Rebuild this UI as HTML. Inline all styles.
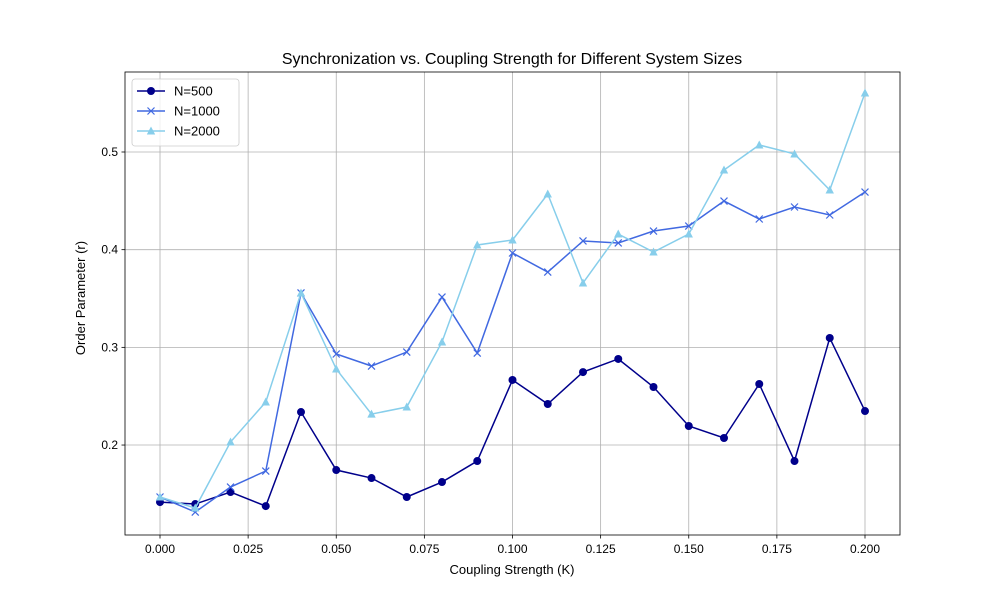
<!DOCTYPE html>
<html><head><meta charset="utf-8"><style>
body{margin:0;background:#fff;font-family:"Liberation Sans","DejaVu Sans",sans-serif}
</style></head><body>
<svg id="c" width="1000" height="600" xmlns="http://www.w3.org/2000/svg"></svg>
<script>
const categories=[0,0.01,0.02,0.03,0.04,0.05,0.06,0.07,0.08,0.09,0.1,0.11,0.12,0.13,0.14,0.15,0.16,0.17,0.18,0.19,0.2];
const n500=[0.1416,0.1396,0.1519,0.1375,0.2338,0.1744,0.1662,0.1468,0.1621,0.1836,0.2666,0.2420,0.2747,0.2881,0.2594,0.2195,0.2072,0.2625,0.1836,0.3096,0.2348];
const n1000=[0.1468,0.1314,0.1570,0.1734,0.3557,0.2932,0.2809,0.2952,0.3515,0.2942,0.3966,0.3771,0.4089,0.4069,0.4191,0.4242,0.4498,0.4314,0.4437,0.4355,0.4590];
const n2000=[0.1468,0.1355,0.2031,0.2440,0.3557,0.2778,0.2317,0.2389,0.3055,0.4048,0.4099,0.4570,0.3659,0.4160,0.3976,0.4160,0.4816,0.5072,0.4980,0.4611,0.5604];
const xTicks=[0,0.025,0.05,0.075,0.1,0.125,0.15,0.175,0.2];
const xTickLabels=["0.000","0.025","0.050","0.075","0.100","0.125","0.150","0.175","0.200"];
const yTicks=[0.2,0.3,0.4,0.5];
const yTickLabels=["0.2","0.3","0.4","0.5"];
const L=125,R=900,T=72,B=535,xMin=-0.00993,xMax=0.20993,yMin=0.1079,yMax=0.5819;
const X=v=>L+(v-xMin)/(xMax-xMin)*(R-L);
const Y=v=>B-(v-yMin)/(yMax-yMin)*(B-T);
const svg=document.getElementById('c');const NS='http://www.w3.org/2000/svg';
function mk(t,a,p){const e=document.createElementNS(NS,t);for(const k in a)e.setAttribute(k,a[k]);(p||svg).appendChild(e);return e;}
xTicks.forEach((v,i)=>{
const g=mk('line',{x1:X(v),x2:X(v),y1:T,y2:B,stroke:'#b0b0b0','stroke-width':0.8});


mk('line',{x1:X(v),x2:X(v),y1:B,y2:B+3.5,stroke:'#000','stroke-width':0.8});
const t=mk('text',{x:X(v),y:B+18,'text-anchor':'middle','font-size':12});t.textContent=xTickLabels[i];


});
yTicks.forEach((v,i)=>{
const g=mk('line',{x1:L,x2:R,y1:Y(v),y2:Y(v),stroke:'#b0b0b0','stroke-width':0.8});


mk('line',{x1:L-3.5,x2:L,y1:Y(v),y2:Y(v),stroke:'#000','stroke-width':0.8});
const t=mk('text',{x:L-7,y:Y(v)+4,'text-anchor':'end','font-size':12});t.textContent=yTickLabels[i];


});
const fr=mk('rect',{x:L,y:T,width:R-L,height:B-T,fill:'none',stroke:'#000','stroke-width':0.8});


function marker(type,x,y,col,p){
if(type==='o')return mk('circle',{cx:x,cy:y,r:4,fill:col},p);
if(type==='x'){const g=mk('g',{},p);mk('line',{x1:x-3.5,y1:y-3.5,x2:x+3.5,y2:y+3.5,stroke:col,'stroke-width':1.2},g);mk('line',{x1:x-3.5,y1:y+3.5,x2:x+3.5,y2:y-3.5,stroke:col,'stroke-width':1.2},g);return g;}
return mk('polygon',{points:`${x},${y-4.5} ${x-4.2},${y+3.5} ${x+4.2},${y+3.5}`,fill:col},p);
}
const series=[[n500,'#00008b','o','N=500'],[n1000,'#4169e1','x','N=1000'],[n2000,'#87ceeb','^','N=2000']];
series.forEach(([d,col,m,name])=>{
const g=mk('g',{});


mk('polyline',{points:d.map((v,i)=>X(categories[i])+','+Y(v)).join(' '),fill:'none',stroke:col,'stroke-width':1.5},g);
d.forEach((v,i)=>{const e=marker(m,X(categories[i]),Y(v),col,g);

});
});
const lg=mk('g',{});


mk('rect',{x:132,y:79,width:107,height:67,rx:3,fill:'#fff',stroke:'#ccc','stroke-width':0.8,'fill-opacity':0.8},lg);
series.forEach(([d,col,m,name],i)=>{
const y=91+i*20;
const e=mk('g',{},lg);


mk('line',{x1:137,x2:165,y1:y,y2:y,stroke:col,'stroke-width':1.5},e);
marker(m,151,y,col,e);
const t=mk('text',{x:174,y:y+4.5,'font-size':13},e);t.textContent=name;
});
const tt=mk('text',{x:512,y:64,'text-anchor':'middle','font-size':16});tt.textContent='Synchronization vs. Coupling Strength for Different System Sizes';


const xl=mk('text',{x:512,y:574,'text-anchor':'middle','font-size':13});xl.textContent='Coupling Strength (K)';


const yl=mk('text',{x:85,y:298,'text-anchor':'middle','font-size':13,transform:'rotate(-90 85 298)'});yl.textContent='Order Parameter (r)';


</script>
</body></html>
